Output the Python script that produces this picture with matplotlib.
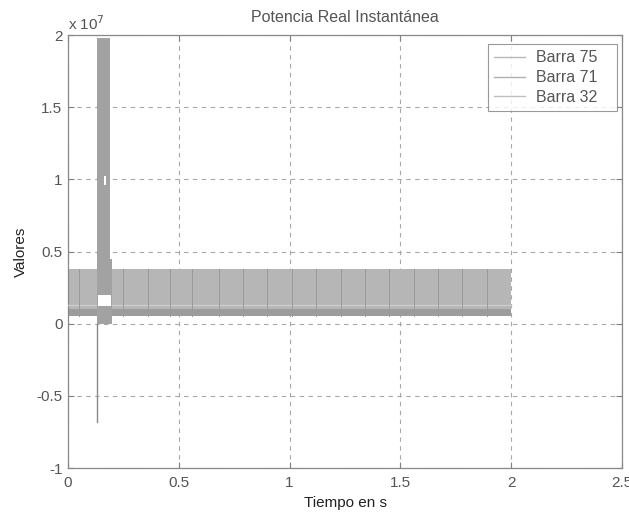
import matplotlib
matplotlib.use('Agg')
import matplotlib.pyplot as plt

plt.rcParams['font.family'] = ['Liberation Sans', 'DejaVu Sans']

# valores (unidades de 1e7)
band_t = [0.0, 2.0]
band_hi = [0.38, 0.38]
band_lo = [0.05, 0.05]
strip_hi = [0.10, 0.10]
mid_line = [0.13, 0.13]
stripe_t = [0.05, 0.25, 0.36, 0.46, 0.56, 0.68, 0.79, 0.90, 1.01, 1.12,
            1.23, 1.34, 1.45, 1.56, 1.67, 1.78, 1.89]

spike_t = [0.133, 0.19, 0.19, 0.198]
spike_hi = [1.98, 1.98, 0.45, 0.45]
spike_lo = [0.0, 0.0, 0.0, 0.0]
neg_spike_t = [0.131, 0.131]
neg_spike_v = [0.0, -0.68]
gap_t = [0.136, 0.192]
gap_hi = [0.20, 0.20]
gap_lo = [0.12, 0.12]
notch_t = [0.162, 0.17]
notch_hi = [1.02, 1.02]
notch_lo = [0.96, 0.96]

series = ['Barra 75', 'Barra 71', 'Barra 32']
line_grays = ['#b8b8b8', '#b0b0b0', '#c0c0c0']

fig = plt.figure(figsize=(6.29, 5.14), dpi=100)
ax = fig.add_axes([68 / 629, 1 - 468 / 514, (622 - 68) / 629, (468 - 35) / 514])

ax.fill_between(band_t, band_lo, band_hi, color='#b6b6b6', lw=0, zorder=2)
ax.fill_between(band_t, band_lo, strip_hi, color='#9c9c9c', lw=0, zorder=2)
ax.plot(band_t, mid_line, color='#cdcdcd', lw=1.0, zorder=3)
for s in stripe_t:
    ax.plot([s, s], [band_lo[0], band_hi[0]], color='#9a9a9a', lw=0.7, zorder=3)

ax.fill_between(spike_t, spike_lo, spike_hi, color='#a2a2a2', lw=0, zorder=4)
ax.plot(neg_spike_t, neg_spike_v, color='#8a8a8a', lw=1.0, zorder=4)
ax.fill_between(gap_t, gap_lo, gap_hi, color='white', lw=0, zorder=5)
ax.fill_between(notch_t, notch_lo, notch_hi, color='white', lw=0, zorder=5)

for name, c in zip(series, line_grays):
    ax.plot([], [], color=c, lw=1.0, label=name + '   ')

ax.set_xlim(0, 2.5)
ax.set_ylim(-1, 2)
ax.set_xticks([0, 0.5, 1, 1.5, 2, 2.5])
ax.set_xticklabels(['0', '0.5', '1', '1.5', '2', '2.5'])
ax.set_yticks([-1, -0.5, 0, 0.5, 1, 1.5, 2])
ax.set_yticklabels(['-1', '-0.5', '0', '0.5', '1', '1.5', '2'])
ax.grid(True, color='#a8a8a8', ls=(0, (4, 4)), lw=0.8, zorder=1)
ax.set_axisbelow(True)
ax.tick_params(direction='in', top=True, right=True, length=4, width=0.8,
               colors='#808080', labelcolor='#555555', labelsize=11)
ax.tick_params(axis='x', pad=6)
ax.tick_params(axis='y', pad=4)
for sp in ax.spines.values():
    sp.set_color('#888888')
    sp.set_linewidth(0.9)

ax.text(0.0, 1.004, r'x 10$^7$', transform=ax.transAxes, fontsize=11,
        color='#555555', va='bottom', ha='left')
ax.set_title('Potencia Real Instantánea', fontsize=11.5, color='#555555', pad=9)
ax.set_xlabel('Tiempo en s', fontsize=11, color='#222222', labelpad=4)
ax.set_ylabel('Valores', fontsize=11, color='#222222', labelpad=6)

leg = ax.legend(loc='upper right', bbox_to_anchor=(0.991, 0.979),
                borderaxespad=0, fontsize=11.5, frameon=True, fancybox=False,
                edgecolor='#808080', handlelength=1.9, handletextpad=0.7,
                labelspacing=0.3, borderpad=0.4)
leg.get_frame().set_linewidth(0.8)
for txt in leg.get_texts():
    txt.set_color('#555555')

fig.savefig('out.png', dpi=100)
